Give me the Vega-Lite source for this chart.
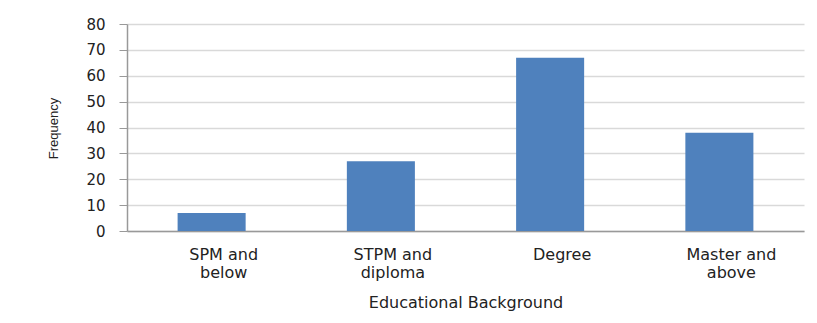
{
  "$schema": "https://vega.github.io/schema/vega-lite/v6.json",
  "autosize": "none",
  "padding": {"left": 127, "top": 24, "right": 13, "bottom": 92},
  "width": 677,
  "height": 207,
  "background": "white",
  "data": {"values": [
    {"education": "SPM and below", "frequency": 7},
    {"education": "STPM and diploma", "frequency": 27},
    {"education": "Degree", "frequency": 67},
    {"education": "Master and above", "frequency": 38}
  ]},
  "mark": {"type": "bar", "color": "#4F81BD"},
  "encoding": {
    "x": {
      "field": "education", "type": "nominal", "sort": null,
      "scale": {"paddingInner": 0.598, "paddingOuter": 0.299},
      "axis": {
        "title": "Educational Background",
        "labelAngle": 0,
        "labelExpr": "datum.value == 'SPM and below' ? ['SPM and','below'] : datum.value == 'STPM and diploma' ? ['STPM and','diploma'] : datum.value == 'Master and above' ? ['Master and','above'] : datum.value",
        "labelFont": "DejaVu Sans", "labelFontSize": 16, "labelColor": "#222",
        "labelLineHeight": 18, "labelPadding": 15, "labelBaseline": "top", "labelOffset": 12,
        "ticks": false, "domainColor": "#999", "domainWidth": 1.5,
        "titleFont": "DejaVu Sans", "titleFontSize": 16, "titleFontWeight": "normal", "titleColor": "#222",
        "titleY": 63, "titleBaseline": "top"
      }
    },
    "y": {
      "field": "frequency", "type": "quantitative",
      "scale": {"domain": [0, 80]},
      "axis": {
        "title": "Frequency", "values": [0,10,20,30,40,50,60,70,80],
        "labelFont": "DejaVu Sans", "labelFontSize": 15, "labelColor": "#222",
        "tickSize": 8, "tickColor": "#999", "labelPadding": 14,
        "domainColor": "#999", "domainWidth": 1.5,
        "gridColor": "#d9d9d9", "gridWidth": 1.5,
        "titleFont": "Liberation Sans", "titleFontSize": 13, "titleFontWeight": "normal", "titleColor": "#222",
        "titleX": -74, "titleY": 104, "titleAlign": "center", "titleBaseline": "middle", "titleAngle": -90
      }
    }
  },
  "config": {"view": {"stroke": null}}
}
